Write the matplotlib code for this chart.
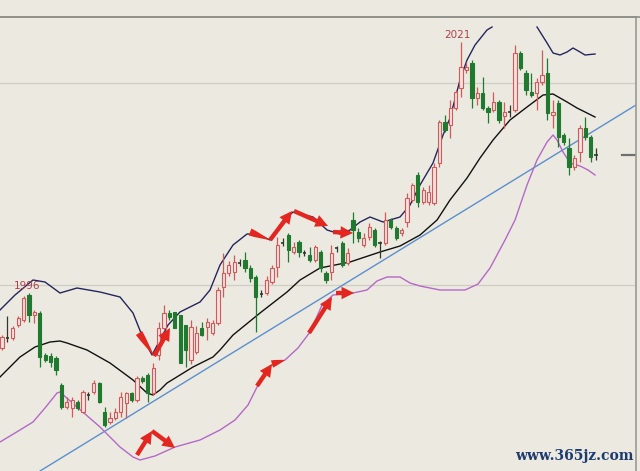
import matplotlib
matplotlib.use("Agg")
import matplotlib.pyplot as plt
from matplotlib.patches import Rectangle, FancyArrowPatch
import numpy as np

# ---------------- data (price units) ----------------
highs  = [136,155,145,155,175,178,161,160,118,118,115,88,74,74,71,81,79,91,89,64,59,63,79,79,79,95,95,98,108,149,
          166,161,158,151,123,151,145,149,153,151,184,218,210,216,212,219,206,196,181,195,206,234,233,238,229,231,221,224,226,221,
          200,226,225,230,223,259,243,238,248,243,230,259,253,245,243,278,288,299,284,286,308,351,356,371,381,429,409,411,384,394,
          365,379,371,369,366,426,420,401,398,393,421,413,371,371,338,333,316,346,354,336,323]
opens  = [123,133,133,146,151,176,156,158,116,115,113,86,64,63,69,59,76,79,88,59,49,53,59,68,78,71,93,96,78,116,
          143,158,159,156,146,111,119,143,144,138,148,184,198,199,208,211,203,194,177,178,189,204,228,236,219,229,218,216,211,219,
          198,199,223,228,208,251,239,226,234,241,228,228,251,243,238,249,271,296,269,269,268,308,349,346,363,383,401,408,373,378,
          363,361,369,355,359,361,418,398,379,378,389,398,356,368,336,323,304,319,343,334,316]
closes = [134,132,143,153,173,156,159,114,111,109,101,64,69,71,63,79,75,88,69,46,53,59,74,78,71,93,90,78,103,143,
          158,154,143,108,121,144,138,136,149,148,181,198,206,209,208,203,193,174,176,191,203,226,227,221,224,219,217,211,224,203,
          191,218,222,206,218,241,233,233,244,226,227,251,244,233,241,273,286,269,281,279,304,349,341,363,379,404,404,373,378,363,
          359,369,351,359,358,418,403,381,376,389,396,358,359,334,329,304,313,343,334,314,315]
lows   = [121,129,131,144,149,149,148,104,109,104,96,62,62,54,61,58,71,77,68,44,47,51,54,53,69,69,88,69,76,111,
          141,151,151,141,104,107,117,135,131,136,146,174,195,191,205,199,189,139,174,176,187,194,225,209,217,214,215,209,209,199,
          188,191,219,204,206,228,229,224,231,224,213,226,242,231,235,244,269,264,267,266,266,304,339,333,361,374,398,363,366,361,
          348,359,348,343,354,359,401,376,374,361,386,351,343,324,326,296,301,309,331,309,311]

upper_idx = [-0.37,2.41,5.74,7.96,10.74,13.89,18.15,21.85,24.26,26.11,27.78,29.26,30.74,32.96,36.67,38.52,40.37,42.78,45.37,
             47.22,49.63,51.85,53.89,57.59,60.19,62.59,64.44,66.30,68.15,70.56,73.70,75.56,77.41,79.81,81.67,82.96,84.81,
             86.11,87.59,89.81,90.74,
             np.nan,
             99.07,100.93,102.04,103.33,104.63,105.74,107.04,107.96,109.81]
upper_val = [161,176,191,189,178,183,179,174,158,133,116,131,146,159,169,181,206,226,237,
             237,231,249,259,254,241,237,241,249,254,249,254,266,286,308,336,353,391,
             411,426,441,444,
             np.nan,
             444,428,418,416,419,423,419,416,417]

mid_idx = [-0.37,3.33,6.11,8.89,10.74,12.04,15.74,20.0,24.26,26.85,27.96,29.26,30.56,35.37,39.07,40.37,42.78,47.78,
           52.78,55.19,58.89,64.44,70.0,73.70,77.41,80.56,82.96,86.11,88.52,90.93,94.07,97.22,100.19,102.04,104.63,
           106.48,109.81]
mid_val = [94,114,124,129,130,128,121,108,91,78,76,81,88,104,114,121,136,158,
           179,191,203,209,219,225,236,251,271,293,313,331,351,364,376,377,369,
           363,354]

lower_idx = [-0.37,3.33,5.74,7.96,10.19,10.74,13.89,18.15,21.85,24.26,25.56,28.33,32.04,36.67,40.37,43.15,45.56,47.41,
             49.63,52.41,54.81,57.04,59.26,61.30,65.0,67.59,69.44,71.30,73.70,75.56,77.41,81.11,85.74,88.15,90.37,93.15,
             95.0,97.22,99.07,100.93,102.04,102.78,103.89,105.19,107.04,108.52,109.81]
lower_val = [29,41,49,63,78,79,64,44,24,14,11,15,24,31,41,51,66,86,
             105,111,123,139,166,176,178,181,190,194,194,188,185,181,181,187,203,231,
             251,286,311,329,336,331,319,308,305,301,296]

trend_idx = [7.04, 117.4]
trend_val = [0, 366]

# red hand-drawn arrows: (x0, y0, x1, y1, kind)
arrows = [
    (25.37, 138, 28.15, 115, "wedge"),
    (28.15, 115, 31.11, 143, "arrow"),
    (45.93, 239, 49.63, 231, "wedge"),
    (49.63, 231, 53.70, 260, "arrow"),
    (54.07, 260, 60.37, 245, "arrow"),
    (61.30, 239, 65.00, 238, "arrow"),
    (25.00, 16, 27.78, 40, "arrow"),
    (27.78, 40, 32.04, 23, "arrow"),
    (47.22, 85, 50.00, 107, "arrow"),
    (50.00, 107, 52.41, 111, "wedge"),
    (56.85, 138, 61.11, 174, "arrow"),
    (61.85, 178, 65.19, 178, "arrow"),
]

labels = [("1996", 4.6, 185), ("2021", 84.4, 436)]
grid_levels = [388, 186]
watermark = "www.365jz.com"

# ---------------- drawing ----------------
BG = "#ECEAE0"
fig = plt.figure(figsize=(6.4, 4.71), dpi=100, facecolor=BG)
ax = fig.add_axes([0, 0, 636/640, 454/471], facecolor=BG)
ax.set_xlim(-0.37, 117.4)
ax.set_ylim(0, 454)
ax.set_xticks([]); ax.set_yticks([])
for s in ("left", "bottom"):
    ax.spines[s].set_visible(False)
for s in ("top", "right"):
    ax.spines[s].set_color("#9a9a92")
    ax.spines[s].set_linewidth(1.2)

for g in grid_levels:
    ax.axhline(g, color="#cfcdc4", lw=0.9, zorder=0)
ax.axhline(316, xmin=0.978, xmax=1.0, color="#707070", lw=1.6, zorder=1)

ax.plot(trend_idx, trend_val, color="#5b8fd0", lw=1.0, zorder=1)
ax.plot(upper_idx, upper_val, color="#25255e", lw=1.0, zorder=2)
ax.plot(mid_idx, mid_val, color="#111111", lw=1.0, zorder=2)
ax.plot(lower_idx, lower_val, color="#b468c8", lw=1.0, zorder=2)

w = 0.62
for i, (o, h, l, c) in enumerate(zip(opens, highs, lows, closes)):
    up = c > o
    doji = abs(c - o) <= 1
    if doji:
        col, face = "#2c3a2c", "#2c3a2c"
    elif up:
        col, face = "#d05a5a", "#f6e0e0"
    else:
        col, face = "#1f7a30", "#1f7a30"
    ax.vlines(i, l, h, color=col, lw=0.9, zorder=3)
    lo, hi = min(o, c), max(o, c)
    if doji:
        ax.hlines(o, i - w/2, i + w/2, color=col, lw=1.2, zorder=4)
    else:
        ax.add_patch(Rectangle((i - w/2, lo), w, hi - lo, facecolor=face,
                               edgecolor=col, lw=0.8, zorder=4))

RED = "#e3261f"
for x0, y0, x1, y1, kind in arrows:
    if kind == "wedge":
        style = "wedge,tail_width=0.6,shrink_factor=0.6"
    else:
        style = "simple,head_length=1.0,head_width=1.0,tail_width=0.35"
    ax.add_patch(FancyArrowPatch((x0, y0), (x1, y1), arrowstyle=style,
                                 mutation_scale=9, color=RED, lw=0,
                                 shrinkA=0, shrinkB=0, zorder=6))

for t, x, y in labels:
    ax.text(x, y, t, color="#b0404a", fontsize=7.5, ha="center", va="center", zorder=7)

fig.text(0.898, 0.032, watermark, color="#1d3b70", fontsize=10, ha="center", va="center",
         family="DejaVu Serif", fontweight="bold")
fig.add_artist(plt.Line2D([0, 1], [1 - 17/471, 1 - 17/471], color="#8e8e86", lw=1.2))

fig.savefig("out.png", dpi=100, facecolor=BG)
